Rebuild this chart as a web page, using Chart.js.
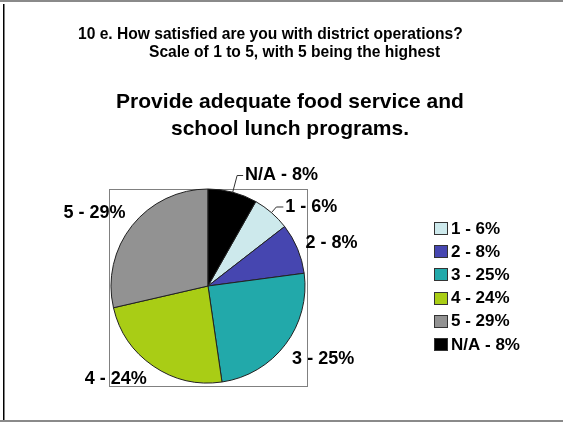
<!DOCTYPE html>
<html>
<head>
<meta charset="utf-8">
<script src="https://cdn.jsdelivr.net/npm/chart.js@4.4.1/dist/chart.umd.min.js"></script>
<style>
html,body{margin:0;padding:0;background:#fff;}
#wrap{width:563px;height:422px;position:relative;}
canvas{display:block;}
</style>
</head>
<body>
<div id="wrap"><canvas id="c" width="563" height="422"></canvas></div>
<script>
// ---- data ----
const categories = ['1', '2', '3', '4', '5', 'N/A'];
const shares = [6.3, 8.4, 24.8, 23.7, 28.6, 8.2];      // slice sizes
const shownPercents = [6, 8, 25, 24, 29, 8];           // percentages printed on the chart
const questionLines = ['10 e. How satisfied are you with district operations?', 'Scale of 1 to 5, with 5 being the highest'];
const titleLines = ['Provide adequate food service and', 'school lunch programs.'];
const sliceColors = ['#cde9ec', '#4646b0', '#22a9aa', '#a9cd15', '#929292', '#000000'];

const labelTexts = categories.map((c, i) => c + ' - ' + shownPercents[i] + '%');

// ---- layout ----
const FONT = '"Liberation Sans", Arial, Helvetica, sans-serif';
const W = 563, H = 422;
const pieCx = 208, pieCy = 286, pieR = 97;
const legendLayout = {x: 434, firstCenter: 228.5, step: 23.2, box: [14, 13], gap: 3, size: 17};

// label placement relative to each slice's middle angle
const labelPlacement = [
  {k: 1.077, dx: 9, dy: 0, leader: true},
  {k: 1.1, dx: -1, dy: -1.5},
  {k: 1.1, dx: -1, dy: 8.5},
  {k: 1.1, dx: -1, dy: 5},
  {k: 1.1, dx: 1, dy: -7},
  {k: 1.178, dx: 8, dy: 0, leader: true}
];

const total = shares.reduce((a, b) => a + b, 0);
const startRotation = shares[shares.length - 1] / total * 360;

const decorPlugin = {
  id: 'decor',
  beforeDraw(chart) {
    const ctx = chart.ctx;
    ctx.save();
    ctx.fillStyle = '#ffffff';
    ctx.fillRect(0, 0, W, H);
    // slide border
    ctx.fillStyle = '#8a8a8a';
    ctx.fillRect(0, 0, W, 2);
    ctx.fillRect(0, H - 2, W, 2);
    ctx.fillStyle = '#000000';
    ctx.fillRect(3, 4, 1.5, H - 6);
    // titles
    ctx.fillStyle = '#000';
    ctx.textBaseline = 'alphabetic';
    ctx.font = 'bold 15.6px ' + FONT;
    ctx.textAlign = 'left';
    ctx.fillText(questionLines[0], 78, 39);
    ctx.fillText(questionLines[1], 149, 56.5);
    ctx.font = 'bold 21px ' + FONT;
    ctx.textAlign = 'center';
    ctx.fillText(titleLines[0], 290, 108);
    ctx.fillText(titleLines[1], 290, 135);
    ctx.restore();
  },
  beforeDatasetsDraw(chart) {
    const arc = chart.getDatasetMeta(0).data[0];
    if (!arc) return;
    const {x, y, outerRadius} = arc.getProps(['x', 'y', 'outerRadius'], true);
    const ctx = chart.ctx;
    ctx.save();
    ctx.strokeStyle = '#808080';
    ctx.lineWidth = 1;
    const l = Math.round(x - outerRadius - 2) + 0.5;
    const t = Math.round(y - outerRadius) + 0.5;
    const r = Math.round(x + outerRadius + 2) + 0.5;
    const b = Math.round(y + outerRadius + 3) + 0.5;
    ctx.strokeRect(l, t, r - l, b - t);
    ctx.restore();
  },
  afterDatasetsDraw(chart) {
    const meta = chart.getDatasetMeta(0);
    const ctx = chart.ctx;
    ctx.save();
    ctx.font = 'bold 18px ' + FONT;
    ctx.fillStyle = '#000';
    ctx.strokeStyle = '#333';
    ctx.lineWidth = 1;
    ctx.textBaseline = 'middle';
    meta.data.forEach((arc, i) => {
      const p = arc.getProps(['x', 'y', 'startAngle', 'endAngle', 'outerRadius'], true);
      const mid = (p.startAngle + p.endAngle) / 2;
      const ux = Math.cos(mid), uy = Math.sin(mid);
      const pl = labelPlacement[i];
      const ax = p.x + ux * p.outerRadius * pl.k;
      const ay = p.y + uy * p.outerRadius * pl.k;
      const right = ux >= 0;
      const tx = ax + pl.dx;
      const ty = ay + pl.dy;
      if (pl.leader) {
        const ex = p.x + ux * p.outerRadius;
        const ey = p.y + uy * p.outerRadius;
        ctx.beginPath();
        ctx.moveTo(ex, ey);
        ctx.lineTo(ax, ty);
        ctx.lineTo(tx - 2, ty);
        ctx.stroke();
      }
      ctx.textAlign = right ? 'left' : 'right';
      ctx.fillText(chart.data.labels[i], tx, ty);
    });
    ctx.restore();
  },
  afterDraw(chart) {
    // legend built from the library's own legend items
    const items = chart.options.plugins.legend.labels.generateLabels(chart);
    const ctx = chart.ctx;
    const L = legendLayout;
    ctx.save();
    ctx.font = 'bold ' + L.size + 'px ' + FONT;
    ctx.textBaseline = 'middle';
    ctx.textAlign = 'left';
    items.forEach((it, i) => {
      const cy = L.firstCenter + i * L.step;
      const bx = L.x, by = Math.round(cy - L.box[1] / 2);
      ctx.fillStyle = it.fillStyle;
      ctx.fillRect(bx, by, L.box[0], L.box[1]);
      ctx.strokeStyle = '#333';
      ctx.lineWidth = 1;
      ctx.strokeRect(bx + 0.5, by + 0.5, L.box[0] - 1, L.box[1] - 1);
      ctx.fillStyle = '#000';
      ctx.fillText(it.text, bx + L.box[0] + L.gap, cy + 0.5);
    });
    ctx.restore();
  }
};

new Chart(document.getElementById('c'), {
  type: 'pie',
  data: {
    labels: labelTexts,
    datasets: [{
      data: shares,
      backgroundColor: sliceColors,
      borderColor: '#222222',
      borderWidth: 1,
      radius: pieR
    }]
  },
  options: {
    responsive: false,
    animation: false,
    devicePixelRatio: 1,
    rotation: startRotation,
    layout: {padding: {left: 0, right: W - 2 * pieCx, top: pieCy - pieR, bottom: H - (pieCy + pieR)}},
    plugins: {
      tooltip: {enabled: false},
      title: {display: false},
      legend: {display: false}
    }
  },
  plugins: [decorPlugin]
});
</script>
</body>
</html>
